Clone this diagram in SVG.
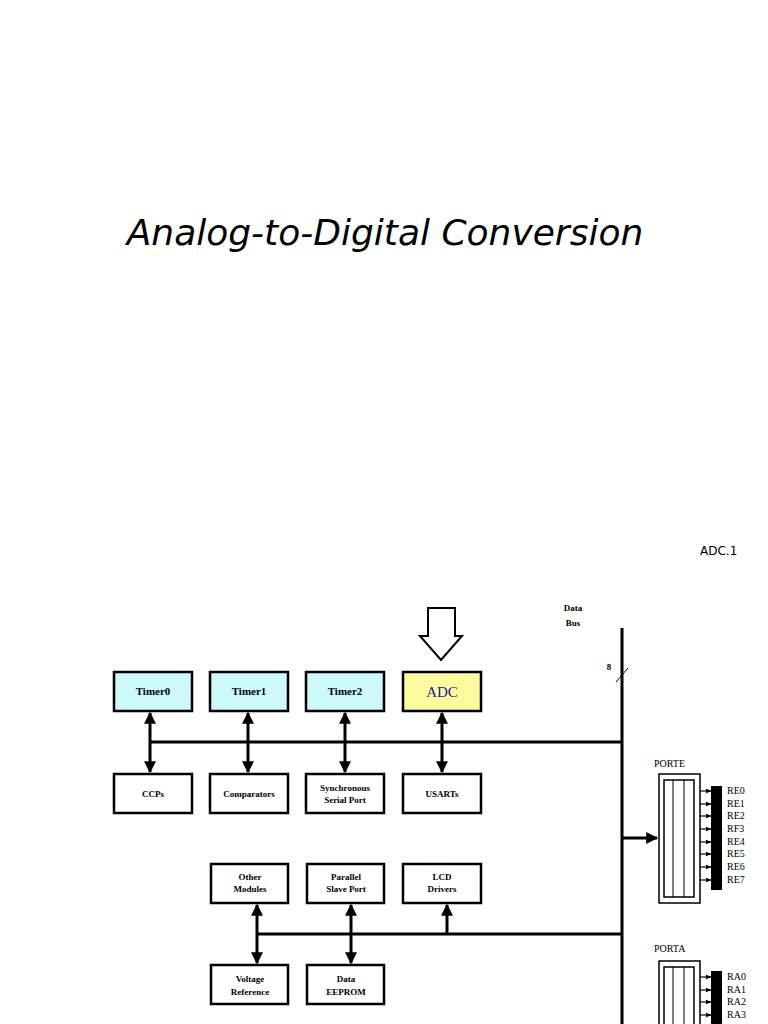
<svg xmlns="http://www.w3.org/2000/svg" width="768" height="1024" viewBox="0 0 768 1024">
<defs>
<marker id="ah" viewBox="0 0 10 10" refX="9" refY="5" markerWidth="4" markerHeight="4" orient="auto-start-reverse"><path d="M0,0L10,5L0,10z" fill="#000"/></marker>
<marker id="sa" viewBox="0 0 10 10" refX="9" refY="5" markerWidth="5" markerHeight="5" orient="auto"><path d="M0,1L10,5L0,9z" fill="#000"/></marker>
</defs>
<style>
.b{fill:#fff;stroke:#000;stroke-width:2.5}
.t{fill:#cdf9fb}.y{fill:#fdfb9d}
.l{font-family:"Liberation Serif",serif;font-weight:bold;font-size:11px;text-anchor:middle}
.s{font-size:9px}
.c{stroke:#000;stroke-width:3;fill:none}
.p{font-family:"Liberation Serif",serif;font-size:10px}
</style>
<rect width="768" height="1024" fill="#fff"/>
<text x="385" y="245" font-family="'DejaVu Sans',sans-serif" font-style="italic" font-size="36" text-anchor="middle">Analog-to-Digital Conversion</text>
<text x="700" y="555" font-family="'DejaVu Sans',sans-serif" font-size="12">ADC.1</text>
<text x="573" y="611" class="l s">Data</text>
<text x="573" y="626" class="l s">Bus</text>
<text x="609" y="670" class="l s">8</text>
<g id="arrow-in"><path d="M428,608H455V636H462L441,660L420,636H428Z" fill="#fff" stroke="#000" stroke-width="2"/></g>
<g id="connectors">
<line class="c" x1="622" y1="628" x2="622" y2="1024"/>
<line x1="616" y1="682" x2="628" y2="668" stroke="#000"/>
<line class="c" x1="150" y1="742" x2="622" y2="742"/>
<line class="c" x1="150" y1="713" x2="150" y2="772" marker-start="url(#ah)" marker-end="url(#ah)"/>
<line class="c" x1="248" y1="713" x2="248" y2="772" marker-start="url(#ah)" marker-end="url(#ah)"/>
<line class="c" x1="345" y1="713" x2="345" y2="772" marker-start="url(#ah)" marker-end="url(#ah)"/>
<line class="c" x1="442" y1="713" x2="442" y2="772" marker-start="url(#ah)" marker-end="url(#ah)"/>
<line class="c" x1="257" y1="934" x2="622" y2="934"/>
<line class="c" x1="257" y1="905" x2="257" y2="963" marker-start="url(#ah)" marker-end="url(#ah)"/>
<line class="c" x1="351" y1="905" x2="351" y2="963" marker-start="url(#ah)" marker-end="url(#ah)"/>
<line class="c" x1="447" y1="934" x2="447" y2="905" marker-end="url(#ah)"/>
<line class="c" x1="622" y1="838" x2="657" y2="838" marker-end="url(#ah)"/>
</g>
<g id="timer0"><rect class="b t" x="114" y="672" width="78" height="39"/><text class="l" x="153" y="695">Timer0</text></g>
<g id="timer1"><rect class="b t" x="210" y="672" width="78" height="39"/><text class="l" x="249" y="695">Timer1</text></g>
<g id="timer2"><rect class="b t" x="306" y="672" width="78" height="39"/><text class="l" x="345" y="695">Timer2</text></g>
<g id="adc"><rect class="b y" x="403" y="672" width="78" height="39"/><text x="442" y="697" font-family="'Liberation Serif',serif" font-size="15" fill="#1a1aa8" text-anchor="middle">ADC</text></g>
<g id="ccps"><rect class="b" x="114" y="774" width="78" height="39"/><text class="l s" x="153" y="797">CCPs</text></g>
<g id="comparators"><rect class="b" x="210" y="774" width="78" height="39"/><text class="l s" x="249" y="797">Comparators</text></g>
<g id="ssp"><rect class="b" x="306" y="774" width="78" height="39"/><text class="l s" x="345" y="791">Synchronous</text><text class="l s" x="345" y="803">Serial Port</text></g>
<g id="usarts"><rect class="b" x="403" y="774" width="78" height="39"/><text class="l s" x="442" y="797">USARTs</text></g>
<g id="other"><rect class="b" x="211" y="864" width="77" height="39"/><text class="l s" x="250" y="880">Other</text><text class="l s" x="250" y="892">Modules</text></g>
<g id="psp"><rect class="b" x="307" y="864" width="77" height="39"/><text class="l s" x="346" y="880">Parallel</text><text class="l s" x="346" y="892">Slave Port</text></g>
<g id="lcd"><rect class="b" x="403" y="864" width="78" height="39"/><text class="l s" x="442" y="880">LCD</text><text class="l s" x="442" y="892">Drivers</text></g>
<g id="vref"><rect class="b" x="211" y="965" width="77" height="39"/><text class="l s" x="250" y="982">Voltage</text><text class="l s" x="250" y="995">Reference</text></g>
<g id="eeprom"><rect class="b" x="307" y="965" width="77" height="39"/><text class="l s" x="346" y="982">Data</text><text class="l s" x="346" y="995">EEPROM</text></g>
<g id="porte">
<text class="p" x="654" y="767">PORTE</text>
<rect x="659" y="774" width="41" height="129" fill="#fff" stroke="#000" stroke-width="1.5"/>
<rect x="664" y="780" width="30" height="117" fill="#fff" stroke="#000" stroke-width="1.5"/>
<line x1="673" y1="780" x2="673" y2="897" stroke="#000"/><line x1="684" y1="780" x2="684" y2="897" stroke="#000"/>
<rect x="711" y="786" width="11" height="104" fill="#000"/>
<g stroke="#000" stroke-width="1.2">
<line x1="700" y1="791" x2="711" y2="791" marker-end="url(#sa)"/><line x1="700" y1="804" x2="711" y2="804" marker-end="url(#sa)"/><line x1="700" y1="816" x2="711" y2="816" marker-end="url(#sa)"/><line x1="700" y1="829" x2="711" y2="829" marker-end="url(#sa)"/><line x1="700" y1="842" x2="711" y2="842" marker-end="url(#sa)"/><line x1="700" y1="854" x2="711" y2="854" marker-end="url(#sa)"/><line x1="700" y1="867" x2="711" y2="867" marker-end="url(#sa)"/><line x1="700" y1="880" x2="711" y2="880" marker-end="url(#sa)"/>
</g>
<g class="p"><text x="727" y="794">RE0</text><text x="727" y="807">RE1</text><text x="727" y="819">RE2</text><text x="727" y="832">RF3</text><text x="727" y="845">RE4</text><text x="727" y="857">RE5</text><text x="727" y="870">RE6</text><text x="727" y="883">RE7</text></g>
</g>
<g id="porta">
<text class="p" x="654" y="952">PORTA</text>
<rect x="659" y="961" width="41" height="80" fill="#fff" stroke="#000" stroke-width="1.5"/>
<rect x="664" y="967" width="30" height="70" fill="#fff" stroke="#000" stroke-width="1.5"/>
<line x1="673" y1="967" x2="673" y2="1024" stroke="#000"/><line x1="684" y1="967" x2="684" y2="1024" stroke="#000"/>
<rect x="711" y="971" width="11" height="60" fill="#000"/>
<g stroke="#000" stroke-width="1.2">
<line x1="700" y1="977" x2="711" y2="977" marker-end="url(#sa)"/><line x1="700" y1="990" x2="711" y2="990" marker-end="url(#sa)"/><line x1="700" y1="1002" x2="711" y2="1002" marker-end="url(#sa)"/><line x1="700" y1="1015" x2="711" y2="1015" marker-end="url(#sa)"/>
</g>
<g class="p"><text x="727" y="980">RA0</text><text x="727" y="993">RA1</text><text x="727" y="1005">RA2</text><text x="727" y="1018">RA3</text></g>
</g>
</svg>
